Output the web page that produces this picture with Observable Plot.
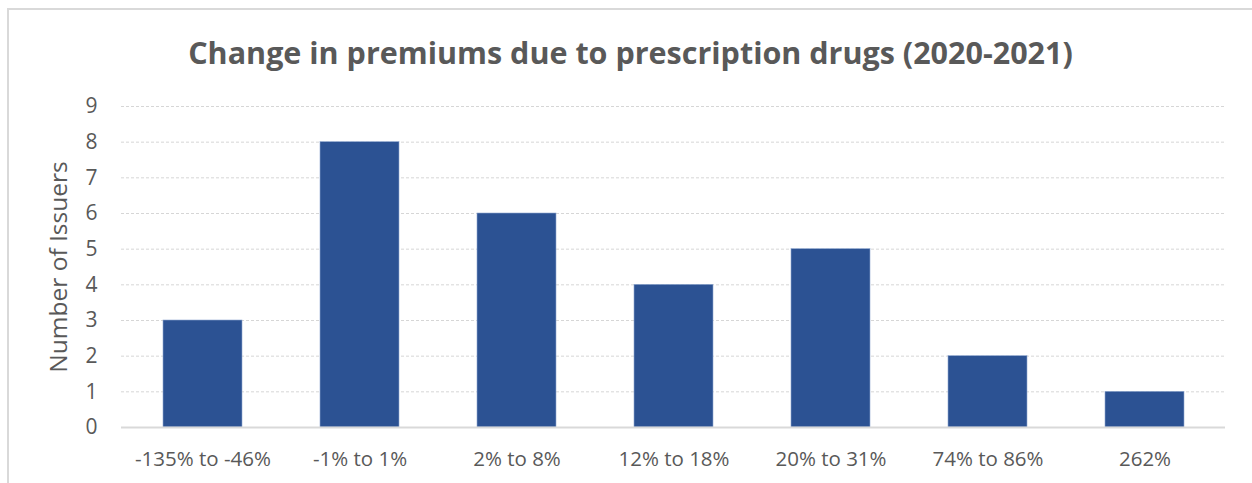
<!DOCTYPE html>
<html>
<head>
<meta charset="utf-8">
<script src="https://cdn.jsdelivr.net/npm/d3@7"></script>
<script src="https://cdn.jsdelivr.net/npm/@observablehq/plot@0.6"></script>
<style>
  html, body { margin: 0; padding: 0; background: #fff; }
  body { width: 1252px; height: 483px; overflow: hidden; position: relative; font-family: "Open Sans", sans-serif; }
  #frame { position: absolute; left: 7px; top: 8px; width: 1245px; height: 475px; border-left: 2px solid #d9d9d9; border-top: 2px solid #d9d9d9; box-sizing: border-box; }
  #title { position: absolute; left: 0; top: 0; width: 100%; height: 80px; text-align: center; line-height: 84px; font-family: "Open Sans", sans-serif; font-weight: 700; font-size: 30.5px; color: #595959; }
  #chart { position: absolute; left: 0; top: 80px; }
  #chart svg [aria-label="y-axis label"] text { font-size: 24.5px; }
</style>
</head>
<body>
<div id="frame">
  <div id="title">Change in premiums due to prescription drugs (2020-2021)</div>
  <div id="chart"></div>
</div>
<script>
const categories = ["-135% to -46%", "-1% to 1%", "2% to 8%", "12% to 18%", "20% to 31%", "74% to 86%", "262%"];
const issuers = [3, 8, 6, 4, 5, 2, 1];
const yTicks = [0, 1, 2, 3, 4, 5, 6, 7, 8, 9];

const data = categories.map((c, i) => ({category: c, value: issuers[i]}));

const chart = Plot.plot({
  width: 1243,
  height: 395,
  marginTop: 16,
  marginBottom: 58,
  marginLeft: 112,
  marginRight: 27,
  style: {fontFamily: "'Open Sans', sans-serif", color: "#595959", background: "transparent"},
  x: {domain: categories, paddingInner: 0.5, paddingOuter: 0.25, label: null},
  y: {domain: [0, 9], label: "Number of Issuers"},
  marks: [
    Plot.gridY(yTicks.filter(d => d > 0), {stroke: "#d6d6d6", strokeOpacity: 1, strokeDasharray: "3,2", strokeWidth: 1}),
    Plot.barY(data, {x: "category", y: "value", fill: "#2C5293", stroke: "#8fa7cf", strokeWidth: 0.6}),
    Plot.ruleY([0], {stroke: "#d9d9d9", strokeWidth: 2}),
    Plot.axisY({ticks: yTicks, tickSize: 0, tickPadding: 24, fontSize: 21, label: "Number of Issuers", labelAnchor: "center", labelArrow: "none", labelOffset: 72, fill: "#595959"}),
    Plot.axisX({tickSize: 0, tickPadding: 24, fontSize: 20.5, label: null, fill: "#595959"})
  ]
});
document.getElementById("chart").appendChild(chart);
</script>
</body>
</html>
